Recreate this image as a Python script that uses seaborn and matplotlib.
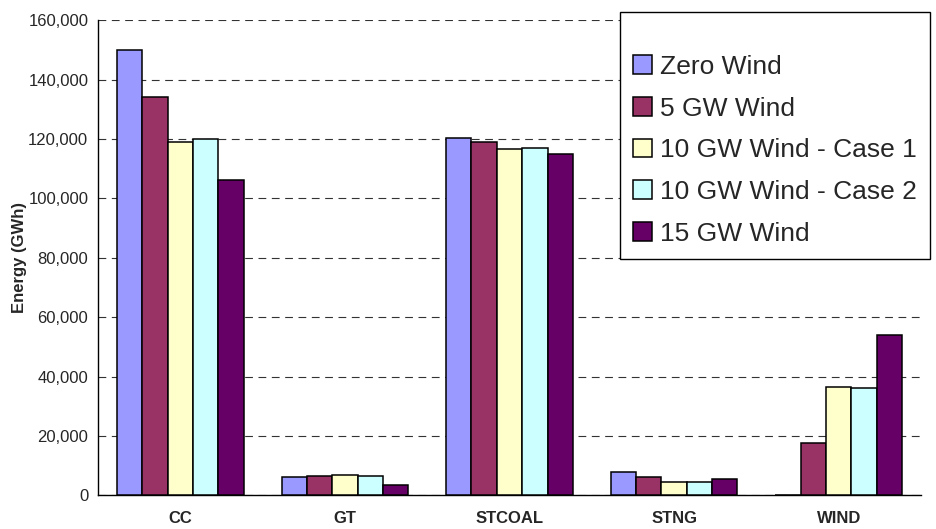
import matplotlib
matplotlib.use("Agg")
import matplotlib.pyplot as plt
from matplotlib.ticker import FuncFormatter, FixedLocator
import numpy as np
import pandas as pd
import seaborn as sns

# Generation by source (GWh) under each wind build-out scenario
sources = ["CC", "GT", "STCOAL", "STNG", "WIND"]
scenarios = ["Zero Wind", "5 GW Wind", "10 GW Wind - Case 1",
             "10 GW Wind - Case 2", "15 GW Wind"]
zero_wind = [150000, 6000, 120400, 7900, 0]
wind_5gw = [134300, 6400, 119000, 6100, 17700]
wind_10gw_case1 = [119000, 6900, 116600, 4500, 36500]
wind_10gw_case2 = [119900, 6400, 117000, 4500, 36000]
wind_15gw = [106300, 3600, 114800, 5500, 54000]
colors = ["#9999FF", "#993366", "#FFFFCC", "#CCFFFF", "#660066"]

series = [zero_wind, wind_5gw, wind_10gw_case1, wind_10gw_case2, wind_15gw]
df = pd.DataFrame(
    [(src, scen, val)
     for scen, vals in zip(scenarios, series)
     for src, val in zip(sources, vals)],
    columns=["source", "scenario", "energy"],
)

sns.set_theme(style="white")
plt.rcParams["font.family"] = ["Liberation Sans", "DejaVu Sans"]

fig = plt.figure(figsize=(9.36, 5.29), dpi=100)
ax = fig.add_axes([0.1047, 0.0637, 0.8793, 0.8980])

sns.barplot(
    data=df, x="source", y="energy", hue="scenario",
    order=sources, hue_order=scenarios, palette=colors,
    width=0.77, edgecolor="black", linewidth=1.1,
    saturation=1, errorbar=None, ax=ax, zorder=3,
)

ax.set_ylim(0, 160000)
ax.set_xlim(-0.5, len(sources) - 0.5)
ax.set_yticks(np.arange(0, 160001, 20000))
ax.yaxis.set_major_formatter(FuncFormatter(lambda v, p: f"{int(v):,}"))
ax.yaxis.grid(True, color="#333333", linestyle=(0, (7, 5)), linewidth=0.8)
ax.set_axisbelow(True)

for side in ["top", "right"]:
    ax.spines[side].set_visible(False)
for side in ["left", "bottom"]:
    ax.spines[side].set_color("black")
    ax.spines[side].set_linewidth(1.0)

ax.tick_params(axis="y", which="major", direction="out", length=4,
               width=1.0, color="black", labelsize=12, pad=3)
ax.tick_params(axis="x", which="major", length=0, labelsize=12, pad=11)
ax.xaxis.set_minor_locator(FixedLocator(np.arange(-0.5, len(sources), 1.0)))
ax.tick_params(axis="x", which="minor", direction="out", length=5,
               width=1.0, color="black")
for lbl in ax.get_xticklabels():
    lbl.set_fontweight("bold")

ax.set_xlabel("")
ax.set_ylabel("Energy (GWh)", fontsize=12, fontweight="bold", labelpad=1)

handles, labels = ax.get_legend_handles_labels()
ax.get_legend().remove()
leg = ax.legend(
    handles, labels, loc="upper left",
    bbox_to_anchor=(0.6624, 0.9773), bbox_transform=fig.transFigure,
    fontsize=19, frameon=True, fancybox=False, shadow=False,
    handlelength=0.7, handleheight=0.7, handletextpad=0.3,
    labelspacing=0.67, borderpad=0.5, borderaxespad=0,
    title=" ", title_fontsize=9,
)
leg.get_frame().set_edgecolor("black")
leg.get_frame().set_linewidth(1.0)
leg.get_frame().set_facecolor("white")
leg.get_frame().set_alpha(1)
leg.set_zorder(10)

fig.savefig("out.png", dpi=100)
